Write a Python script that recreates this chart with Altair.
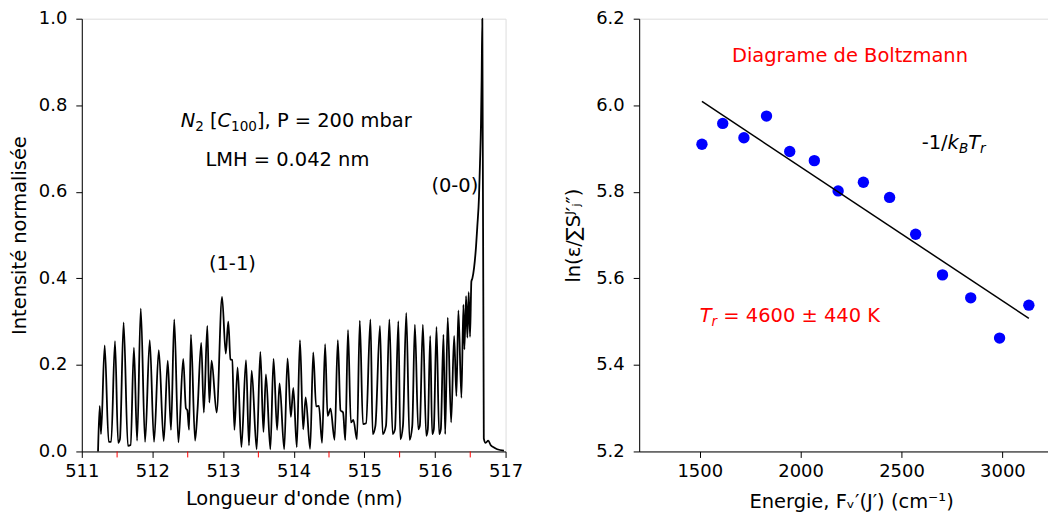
import altair as alt
import pandas as pd

FONT = "DejaVu Sans"

# ---------------- spectrum (left panel) ----------------
wl = [511.230, 511.254, 511.272, 511.324, 511.381, 511.416, 511.470, 511.515, 511.540, 511.592,
      511.653, 511.691, 511.738, 511.783, 511.835, 511.896, 511.962, 512.023, 512.090, 512.160,
      512.217, 512.263, 512.309, 512.368, 512.436, 512.474, 512.495, 512.519, 512.545, 512.604,
      512.639, 512.691, 512.728, 512.777, 512.806, 512.838, 512.909, 512.986, 513.038, 513.074,
      513.105, 513.130, 513.161, 513.206, 513.260, 513.325, 513.367, 513.405, 513.476, 513.528,
      513.572, 513.607, 513.670, 513.715, 513.765, 513.800, 513.866, 513.913, 513.960, 513.995,
      514.044, 514.089, 514.134, 514.170, 514.233, 514.277, 514.318, 514.357, 514.402, 514.445,
      514.480, 514.522, 514.579, 514.625, 514.663, 514.699, 514.731, 514.769, 514.810, 514.845,
      514.896, 514.936, 514.981, 515.025, 515.087, 515.119, 515.157, 515.222, 515.260, 515.307,
      515.355, 515.401, 515.434, 515.482, 515.510, 515.547, 515.594, 515.641, 515.679, 515.716,
      515.764, 515.786, 515.829, 515.877, 515.899, 515.933, 515.961, 515.984, 516.022, 516.060,
      516.083, 516.121, 516.145, 516.181, 516.229, 516.272, 516.304, 516.332, 516.375, 516.403,
      516.417, 516.441, 516.459, 516.478, 516.497, 516.516, 516.530, 516.554, 516.582, 516.600,
      516.624, 516.638, 516.652, 516.661, 516.671, 516.692, 516.717, 516.755, 516.788, 516.836,
      516.882, 516.977]
intensity = [0.0, 0.105, 0.04, 0.245, 0.022, 0.022, 0.255, 0.02, 0.028, 0.298,
             0.013, 0.015, 0.24, 0.025, 0.33, 0.022, 0.257, 0.022, 0.234, 0.024,
             0.21, 0.05, 0.305, 0.021, 0.214, 0.10, 0.095, 0.05, 0.27, 0.025,
             0.097, 0.251, 0.09, 0.29, 0.113, 0.21, 0.09, 0.357, 0.226, 0.30,
             0.213, 0.211, 0.05, 0.194, 0.01, 0.211, 0.014, 0.187, 0.005, 0.23,
             0.045, 0.178, 0.005, 0.214, 0.05, 0.157, 0.005, 0.215, 0.08, 0.147,
             0.01, 0.257, 0.051, 0.125, 0.006, 0.229, 0.104, 0.105, 0.02, 0.248,
             0.082, 0.099, 0.027, 0.257, 0.095, 0.09, 0.026, 0.281, 0.067, 0.073,
             0.028, 0.302, 0.063, 0.065, 0.305, 0.04, 0.059, 0.29, 0.04, 0.059,
             0.305, 0.04, 0.051, 0.301, 0.028, 0.059, 0.32, 0.027, 0.059, 0.293,
             0.051, 0.059, 0.293, 0.036, 0.051, 0.267, 0.04, 0.051, 0.288, 0.04,
             0.051, 0.27, 0.04, 0.309, 0.067, 0.267, 0.128, 0.326, 0.124, 0.339,
             0.236, 0.359, 0.263, 0.368, 0.265, 0.393, 0.40, 0.424, 0.474, 0.52,
             0.589, 0.666, 0.758, 0.858, 1.0, 0.03, 0.02, 0.025, 0.015, 0.009,
             0.005, 0.002]
wl_ticks = [511, 512, 513, 514, 515, 516, 517]
wl_minor = [511.5, 512.5, 513.5, 514.5, 515.5, 516.5]
int_ticks = [0.0, 0.2, 0.4, 0.6, 0.8, 1.0]

# ---------------- Boltzmann plot (right panel) ----------------
energy = [1511, 1614, 1719, 1831, 1946, 2068, 2186, 2311, 2441, 2570, 2703, 2843, 2986, 3131]
ln_ratio = [5.910, 5.958, 5.925, 5.975, 5.893, 5.872, 5.802, 5.822, 5.787, 5.702, 5.608, 5.555, 5.462, 5.538]
e_ticks = [1500, 2000, 2500, 3000]
ln_ticks = [5.2, 5.4, 5.6, 5.8, 6.0, 6.2]

W, H = 425, 434
TICK = 19.5
SUB = 13.6

xs_l = alt.Scale(domain=[511, 517], nice=False, zero=False)
ys_l = alt.Scale(domain=[0, 1], nice=False, zero=False)
xs_r = alt.Scale(domain=[1200, 3300], nice=False, zero=False)
ys_r = alt.Scale(domain=[5.2, 6.2], nice=False, zero=False)

ax_common = dict(grid=False, domainColor="black", tickColor="black", tickSize=6,
                 labelColor="black", titleColor="black", labelFont=FONT, labelFontSize=18,
                 titleFont=FONT, titleFontSize=19.5, titleFontWeight="normal",
                 labelFlush=False)

xax_l = alt.Axis(values=wl_ticks, format="d", title="Longueur d'onde (nm)", labelPadding=5,
                 titlePadding=9, **ax_common)
yax_l = alt.Axis(values=int_ticks, format=".1f", title="Intensité normalisée", labelPadding=9,
                 titlePadding=9, **ax_common)
xax_r = alt.Axis(values=e_ticks, format="d", title="Energie, Fᵥ′(J′) (cm⁻¹)", labelPadding=5,
                 titlePadding=12, **ax_common)
yax_r = alt.Axis(values=ln_ticks, format=".1f", title="ln(ε/∑Sᴶ′ⱼ″)", labelPadding=9,
                 titlePadding=12, **ax_common)

spec_df = pd.DataFrame({"wl": wl, "I": intensity})


def txt(x, y, s, xf, yf, xs, ys, xax, yax, color="black", size=TICK, italic=False, dx=0, dy=0):
    df = pd.DataFrame({xf: [x], yf: [y], "t": [s]})
    return alt.Chart(df).mark_text(
        align="left", baseline="alphabetic", font=FONT, fontSize=size,
        fontStyle="italic" if italic else "normal", color=color, dx=dx, dy=dy
    ).encode(x=alt.X(f"{xf}:Q", scale=xs, axis=xax), y=alt.Y(f"{yf}:Q", scale=ys, axis=yax),
             text="t:N")


def lt(x, y, s, **kw):
    return txt(x, y, s, "wl", "I", xs_l, ys_l, xax_l, yax_l, **kw)


def rt(x, y, s, **kw):
    return txt(x, y, s, "E", "L", xs_r, ys_r, xax_r, yax_r, **kw)


line = alt.Chart(spec_df).mark_line(color="black", strokeWidth=1.8, strokeJoin="round",
                                    interpolate="monotone").encode(
    x=alt.X("wl:Q", scale=xs_l, axis=xax_l),
    y=alt.Y("I:Q", scale=ys_l, axis=yax_l),
)
minor = alt.Chart(pd.DataFrame({"wl": wl_minor})).mark_rule(color="red", strokeWidth=1, clip=False).encode(
    x=alt.X("wl:Q", scale=xs_l, axis=xax_l),
    y=alt.value(H),
    y2=alt.value(H + 6),
)

left = alt.layer(
    line, minor,
    lt(512.4, 0.75, "N", italic=True),
    lt(512.4, 0.75, "2", size=SUB, dx=14.6, dy=4),
    lt(512.4, 0.75, "[", dx=29.4),
    lt(512.4, 0.75, "C", italic=True, dx=37.0),
    lt(512.4, 0.75, "100", size=SUB, dx=50.6, dy=4),
    lt(512.4, 0.75, "], P = 200 mbar", dx=76.5),
    lt(512.75, 0.66, "LMH = 0.042 nm"),
    lt(512.8, 0.42, "(1-1)"),
    lt(515.95, 0.6, "(0-0)"),
).properties(width=W, height=H)

bolt_df = pd.DataFrame({"E": energy, "L": ln_ratio})
pts = alt.Chart(bolt_df).mark_circle(size=130, color="#0000ff", opacity=1).encode(
    x=alt.X("E:Q", scale=xs_r, axis=xax_r),
    y=alt.Y("L:Q", scale=ys_r, axis=yax_r),
)
fit = alt.Chart(bolt_df).transform_regression("E", "L").mark_line(color="black", strokeWidth=1.5).encode(
    x=alt.X("E:Q", scale=xs_r, axis=xax_r),
    y=alt.Y("L:Q", scale=ys_r, axis=yax_r),
)

right = alt.layer(
    pts, fit,
    rt(1660, 6.1, "Diagrame de Boltzmann", color="red"),
    rt(2600, 5.9, "-1/"),
    rt(2600, 5.9, "k", italic=True, dx=26),
    rt(2600, 5.9, "B", italic=True, size=SUB, dx=37.3, dy=4),
    rt(2600, 5.9, "T", italic=True, dx=46.6),
    rt(2600, 5.9, "r", italic=True, size=SUB, dx=58.5, dy=4),
    rt(1500, 5.5, "T", italic=True, color="red"),
    rt(1500, 5.5, "r", italic=True, size=SUB, color="red", dx=11.9, dy=4),
    rt(1500, 5.5, "= 4600 ± 440 K", color="red", dx=23.7),
).properties(width=W, height=H)

chart = alt.hconcat(left, right, spacing=39).properties(
    padding={"left": 0, "top": 0, "right": -16, "bottom": 0}
).configure_view(stroke="black", strokeWidth=1).configure(background="white")

chart.save("out.html", embed_options={"renderer": "svg", "actions": False})
